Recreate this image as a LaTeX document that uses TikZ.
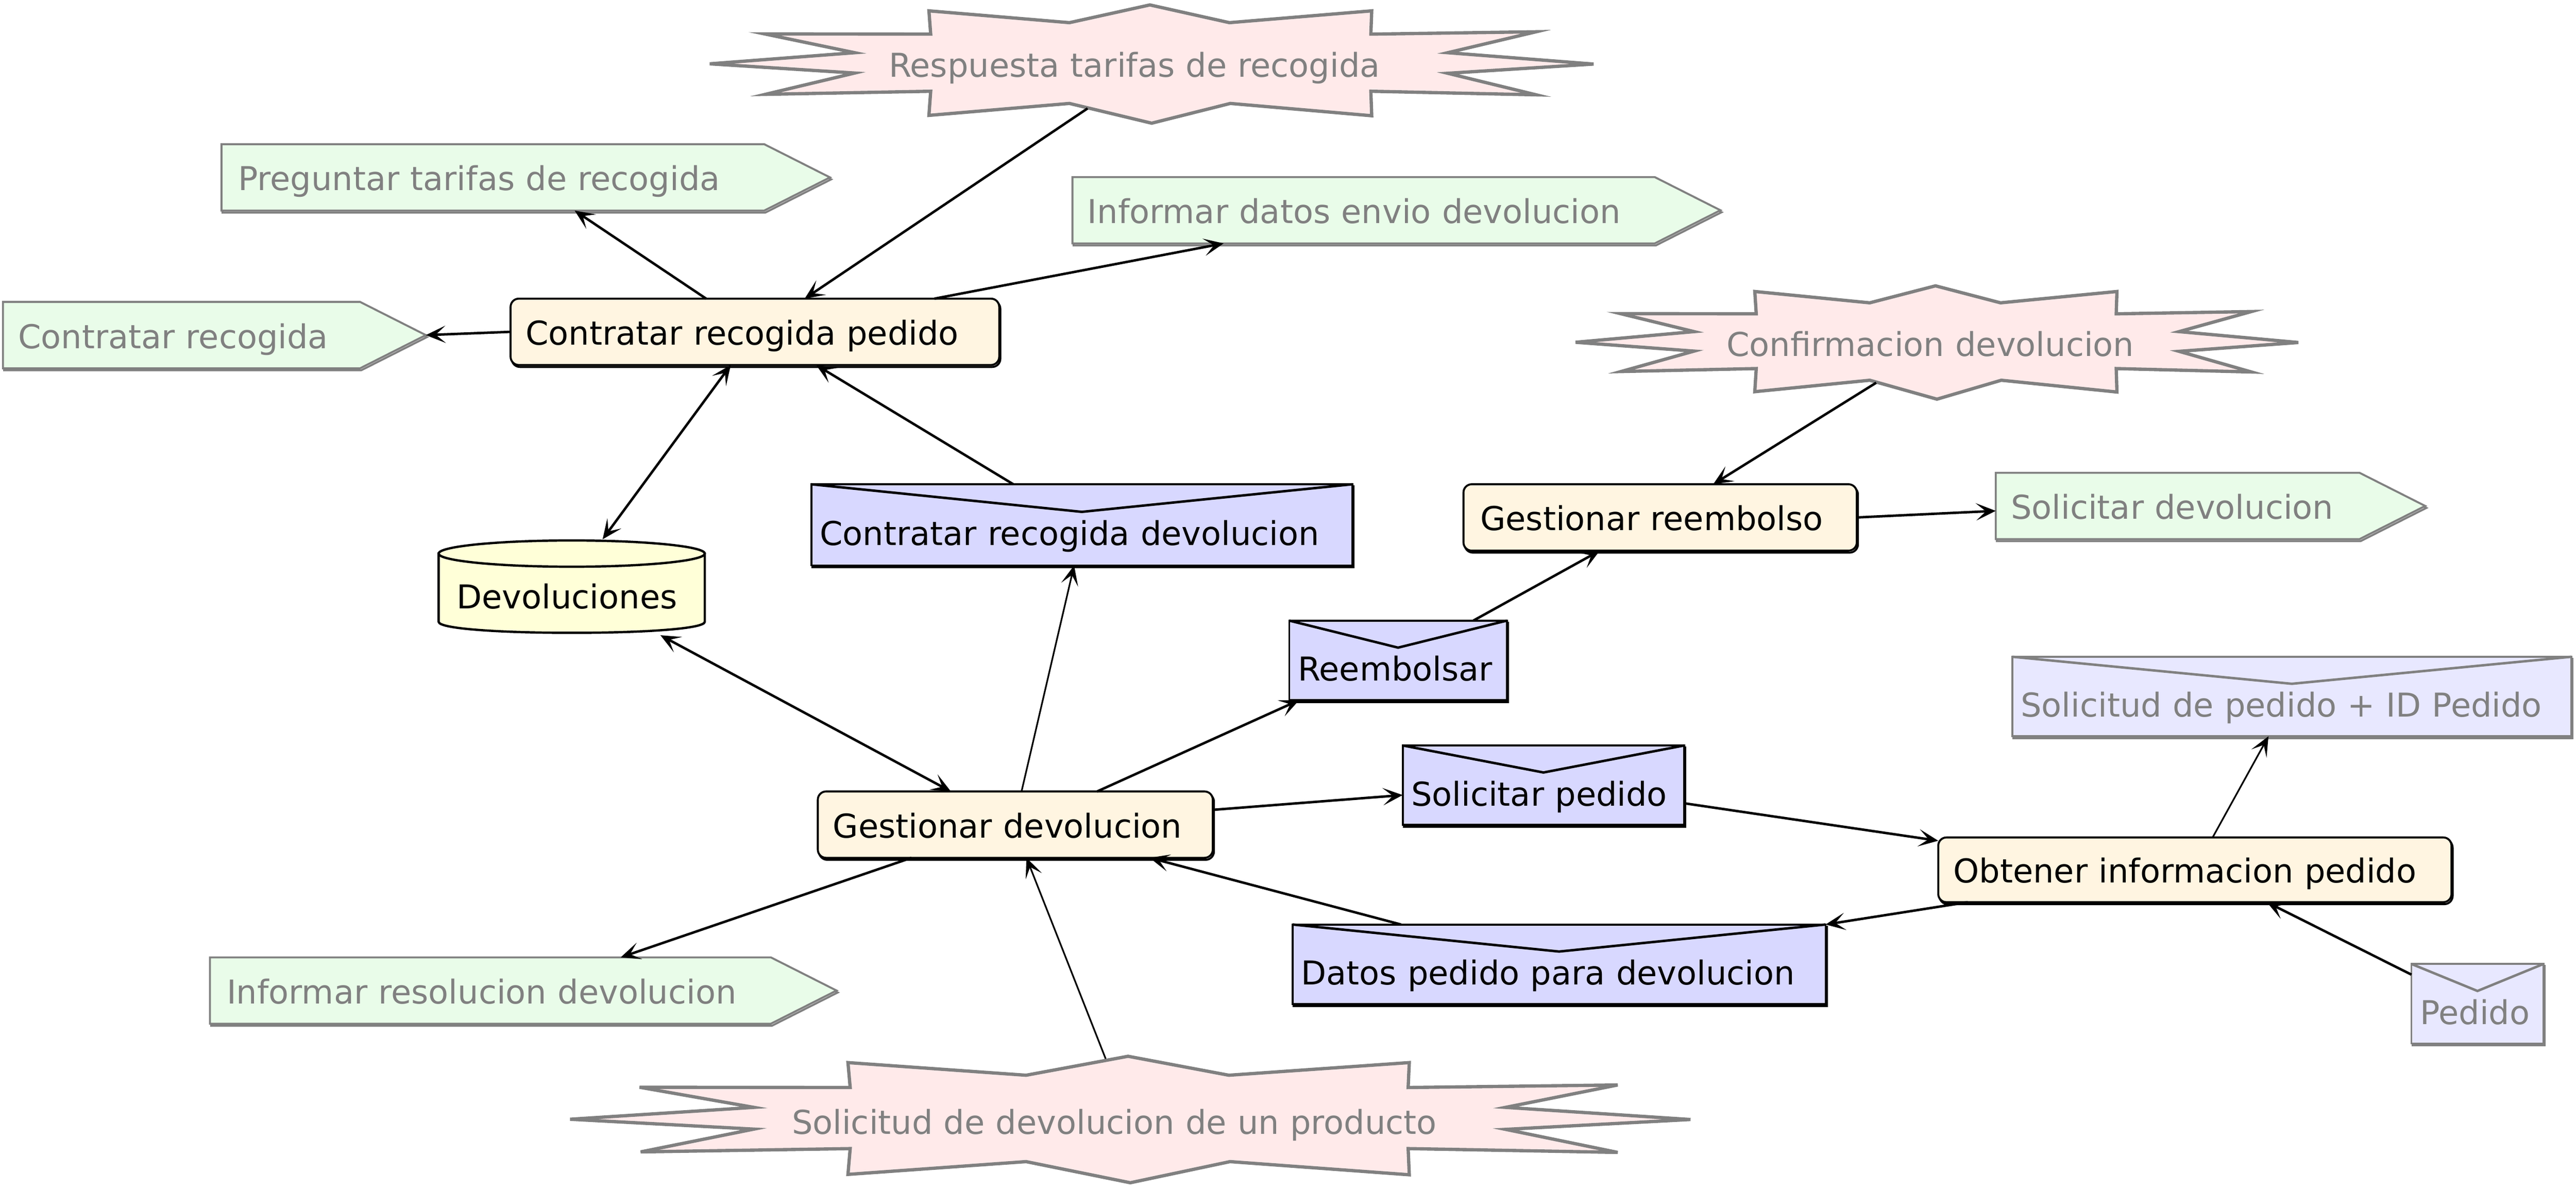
\documentclass[tikz,border=0pt]{standalone}
\usepackage{fontspec}
\setmainfont{DejaVu Sans}
\usetikzlibrary{arrows.meta,backgrounds,calc}
\definecolor{gfill}{HTML}{E9FCE9}
\definecolor{pfill}{HTML}{FFEAEA}
\definecolor{cfill}{HTML}{FFF5E1}
\definecolor{bfill}{HTML}{D8D8FF}
\definecolor{lfill}{HTML}{E8E8FF}
\definecolor{yfill}{HTML}{FFFFD8}
\definecolor{gline}{HTML}{808080}
\tikzset{
  ah/.tip={Stealth[length=12pt,width=10.5pt,inset=6pt]},
  txt/.style={inner sep=0pt, align=left, font=\fontsize{20}{24}\selectfont, text depth=5pt, text height=21pt},
  gtxt/.style={txt, text=gline},
  etxt/.style={txt, text height=30pt},
  getxt/.style={etxt, text=gline},
  shad/.style={line width=1.2pt, transform canvas={xshift=0.7pt,yshift=-1.2pt}},
  conn/.style={line width=1.5pt, -ah},
  tconn/.style={line width=1pt, -ah},
  dconn/.style={line width=1.5pt, ah-ah},
}
\newcommand\burstshape[4]{%
  \filldraw[fill=pfill, draw=gline, line width=2pt, line join=miter, shift={(#1,#2)}, xscale=#3, yscale=#4]
  (-0.002,-0.5) -- (0.088,-0.35) -- (0.249,-0.45) -- (0.248,-0.253) -- (0.435,-0.273) -- (0.335,-0.096)
  -- (0.5,0) -- (0.335,0.078) -- (0.435,0.26) -- (0.248,0.23) -- (0.249,0.437) -- (0.089,0.333)
  -- (0,0.5) -- (-0.093,0.333) -- (-0.252,0.434) -- (-0.25,0.23) -- (-0.437,0.256) -- (-0.336,0.076)
  -- (-0.5,-0.002) -- (-0.336,-0.096) -- (-0.438,-0.255) -- (-0.25,-0.253) -- (-0.252,-0.45) -- (-0.093,-0.35) -- cycle;}
\newcommand\pentshape[1]{%
  \draw[shad, draw=gline] (#1.north west) -- ([xshift=-40pt]#1.north east) -- (#1.east) -- ([xshift=-40pt]#1.south east) -- (#1.south west) -- cycle;
  \filldraw[fill=gfill, draw=gline, line width=1.2pt, line join=miter] (#1.north west) -- ([xshift=-40pt]#1.north east) -- (#1.east) -- ([xshift=-40pt]#1.south east) -- (#1.south west) -- cycle;}
\newcommand\rrshape[1]{%
  \draw[shad, draw=black, rounded corners=5pt] (#1.north west) rectangle (#1.south east);
  \filldraw[fill=cfill, draw=black, line width=1.2pt, rounded corners=5pt] (#1.north west) rectangle (#1.south east);}
\newcommand\envshape[3]{%
  \draw[shad, draw=#3] (#1.north west) rectangle (#1.south east);
  \filldraw[fill=#2, draw=#3, line width=1.2pt] (#1.north west) rectangle (#1.south east);
  \draw[draw=#3, line width=1.5pt, line join=miter] (#1.north west) -- ($(#1.north)!0.34!(#1.south)$) -- (#1.north east);}
\begin{document}
\begin{tikzpicture}[x=1pt, y=-1pt]
\useasboundingbox (0,0) rectangle (1568,724.4);
% nodes
\node[gtxt, text height=20.6pt, minimum width=540pt, minimum height=74pt, text width=320pt] (A) at (701,39) {Respuesta tarifas de recogida};
\node[gtxt, minimum width=370pt, minimum height=40pt, text width=350pt] (B) at (320,108) {Preguntar tarifas de recogida};
\node[gtxt, minimum width=394pt, minimum height=40pt, text width=376pt] (C) at (850,128) {Informar datos envio devolucion};
\node[gtxt, minimum width=257pt, minimum height=40pt, text width=239pt] (D) at (130.5,204) {Contratar recogida};
\node[txt, minimum width=297pt, minimum height=40pt, text width=279pt] (E) at (459.5,202) {Contratar recogida pedido};
\node[gtxt, text height=22pt, minimum width=442pt, minimum height=71pt, text width=256pt] (F) at (1179,208.5) {Confirmacion devolucion};
\node[txt, minimum width=239pt, minimum height=40pt, text width=219pt] (G) at (1010.5,315) {Gestionar reembolso};
\node[gtxt, minimum width=261pt, minimum height=40pt, text width=243pt] (H) at (1345.5,308) {Solicitar devolucion};
\node[etxt, minimum width=329pt, minimum height=49pt, text width=319pt] (I) at (658.5,319.5) {Contratar recogida devolucion};
\node[txt, text height=32pt, minimum width=162pt, minimum height=57pt, text width=140pt] (J) at (348,357) {Devoluciones};
\node[etxt, minimum width=132pt, minimum height=48pt, text width=122pt] (K) at (851,402) {Reembolsar};
\node[getxt, minimum width=340pt, minimum height=48pt, text width=330pt] (L) at (1395,424) {Solicitud de pedido + ID Pedido};
\node[etxt, minimum width=171pt, minimum height=48pt, text width=161pt] (M) at (939.5,478) {Solicitar pedido};
\node[txt, minimum width=240pt, minimum height=40pt, text width=222pt] (N) at (618,502) {Gestionar devolucion};
\node[txt, minimum width=312pt, minimum height=39pt, text width=294pt] (O) at (1336,529.5) {Obtener informacion pedido};
\node[etxt, minimum width=324pt, minimum height=48pt, text width=314pt] (P) at (949,587) {Datos pedido para devolucion};
\node[getxt, minimum width=80pt, minimum height=48pt, text width=70pt] (Q) at (1508,611) {Pedido};
\node[gtxt, minimum width=381pt, minimum height=40pt, text width=361pt] (R) at (318.5,603) {Informar resolucion devolucion};
\node[gtxt, text height=23pt, minimum width=684pt, minimum height=79pt, text width=412pt] (S) at (688,681.5) {Solicitud de devolucion de un producto};
% shapes
\begin{scope}[on background layer]
\burstshape{701}{39}{538}{72}
\burstshape{1179}{208.5}{440}{69}
\burstshape{688}{681.5}{682}{77}
\pentshape{B}
\pentshape{C}
\pentshape{D}
\pentshape{H}
\pentshape{R}
\rrshape{E}
\rrshape{G}
\rrshape{N}
\rrshape{O}
\envshape{I}{bfill}{black}
\envshape{K}{bfill}{black}
\envshape{M}{bfill}{black}
\envshape{P}{bfill}{black}
\envshape{L}{lfill}{gline}
\envshape{Q}{lfill}{gline}
\begin{scope}[shift={(J.center)}]
\filldraw[fill=yfill, draw=black, line width=1.4pt] (-81,-20) -- (-81,21.5) .. controls (-81,30.5) and (81,30.5) .. (81,21.5) -- (81,-20) -- cycle;
\filldraw[fill=yfill, draw=black, line width=1.4pt] (0,-20) ellipse [x radius=81pt, y radius=8pt];
\end{scope}
\end{scope}
% connectors
\draw[conn] ([xshift=119pt]E.north west) -- ([xshift=215pt]B.south west);
\draw[conn] ([xshift=-39pt,yshift=-27pt]A.center) -- ([xshift=179pt]E.north west);
\draw[conn] ([xshift=258pt]E.north west) -- ([xshift=92pt]C.south west);
\draw[conn] (E.west) -- (D.east);
\draw[dconn] ([xshift=134pt]E.south west) -- ([xshift=100pt]J.north west);
\draw[conn] ([xshift=123pt]I.north west) -- ([xshift=186pt]E.south west);
\draw[tconn] ([xshift=124pt]N.north west) -- ([xshift=160pt]I.south west);
\draw[dconn] ([xshift=54pt,yshift=-1pt]J.south) -- ([xshift=81pt]N.north west);
\draw[conn] ([xshift=170pt]N.north west) -- ([xshift=6pt]K.south west);
\draw[conn] ([xshift=112pt]K.north west) -- ([xshift=83pt]G.south west);
\draw[conn] ([xshift=-37pt,yshift=-24.5pt]F.center) -- ([xshift=152pt]G.north west);
\draw[conn] (G.east) -- ([yshift=-3pt]H.west);
\draw[conn] ([yshift=9pt]N.east) -- ([yshift=-6pt]M.west);
\draw[conn] ([yshift=-11pt]M.east) -- ([yshift=-2pt]O.north west);
\draw[tconn] ([xshift=167pt]O.north west) -- ([xshift=156pt]L.south west);
\draw[conn] ([yshift=-6.5pt]Q.north west) -- ([xshift=200pt]O.south west);
\draw[conn] ([xshift=18pt]O.south west) -- (P.north east);
\draw[conn] ([xshift=66pt]P.north west) -- ([xshift=202pt]N.south west);
\draw[tconn] ([xshift=-15pt,yshift=37pt]S.center) -- ([xshift=127pt]N.south west);
\draw[conn] ([xshift=57pt]N.south west) -- ([xshift=250pt]R.north west);
\end{tikzpicture}
\end{document}
